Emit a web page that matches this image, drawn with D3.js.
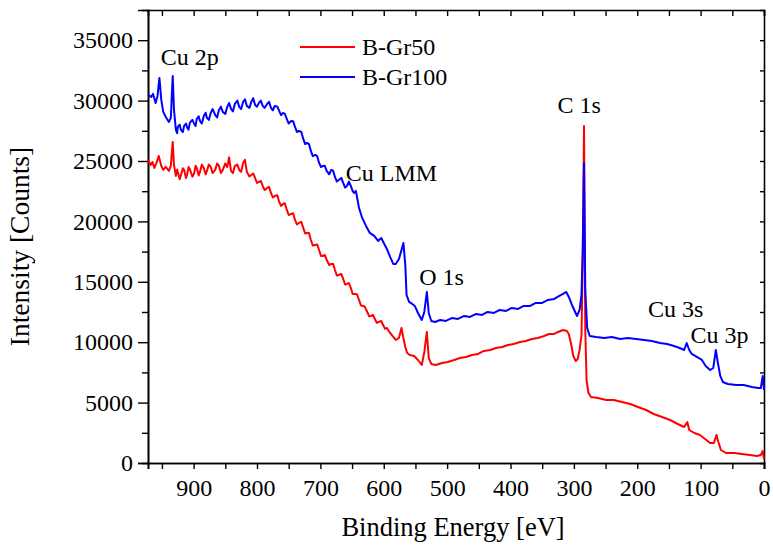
<!DOCTYPE html>
<html>
<head>
<meta charset="utf-8">
<script src="https://cdn.jsdelivr.net/npm/d3@7"></script>
<style>
  body { margin: 0; background: #fff; }
  svg text { font-family: "Liberation Serif", "Times New Roman", serif; fill: #000; }
</style>
</head>
<body>
<div id="chart"></div>
<script>
// B-Gr50 (red) survey spectrum
var gr50Energy = [972,968,965,962,958,955,951,948,944,939,936,933,931,
  928,926,925,922,920,917,915,912,910,908,906,902,899,897,895,892,890,887,884,881,879,876,873,870,866,863,860,857,854,850,847,844,841,838,835,831,828,825,822,819,
  816,812,809,806,803,800,797,794,791,788,784,781,778,775,772,768,765,762,759,756,753,750,746,743,740,737,734,730,727,724,721,718,715,712,708,705,702,699,696,693,690,686,683,680,677,674,671,667,664,661,658,655,652,649,645,642,639,636,633,630,626,623,620,617,614,611,608,604,601,598,595,
  590,585,581,576,572,569,566,563,559,552,546,540,536,532,529,525,518,508,499,489,480,470,461,451,442,432,423,413,404,395,385,376,366,357,347,339,331,325,317,311,308,304,301,297,294,291,288,286,284,282,280,277,273,262,249,237,224,211,199,186,174,161,148,136,126,121,118,110,101,93,85,79,75,72,68,60,47,35,22,11,5,2,0];
var gr50Counts = [25088,24674,24923,24426,24923,25420,24592,24260,24509,24178,24592,26579,24674,
  23764,24300,24095,23500,23846,24400,24260,23600,23929,24500,24343,23700,24012,24600,24426,23800,24095,24700,24426,23900,24178,24700,24509,24000,24260,24800,24592,24000,24260,24800,24509,25300,24178,24000,24592,24700,24260,24100,24840,25100,
  24095,23720,23846,23970,23598,23180,23267,23350,22936,22600,22770,22860,22356,21980,22108,22160,21611,21280,21445,21500,20948,20530,20617,20670,20120,19750,19872,19960,19458,19000,19044,19050,18464,18010,18050,18090,17636,17140,17140,17220,16808,16390,16477,16480,15980,15520,15566,15650,15235,14780,14821,14900,14490,13990,13993,13950,13496,13050,13000,12950,12503,12140,12172,12250,11923,11600,11675,11750,11426,11100,11178,
  10764,10433,10184,10350,11178,10350,9605,9108,8942,8860,8528,8114,9191,10847,8694,8197,8114,8280,8363,8528,8694,8777,8942,9025,9274,9356,9522,9605,9770,9853,10019,10102,10267,10350,10516,10681,10681,10847,11012,10930,10681,9770,8860,8446,8611,9356,10598,16808,27904,11012,6872,5796,5465,5382,5216,5216,5051,4885,4637,4388,4057,3809,3560,3229,2981,3395,2732,2484,2318,1987,1656,1656,2318,1739,1076,828,828,745,662,580,662,994,331];

// B-Gr100 (blue) survey spectrum
var gr100Energy = [972,967,964,960,957,954,951,948,944,939,936,933,931,
  928,926,925,922,920,917,915,912,910,908,906,902,899,897,895,892,890,887,884,881,879,876,873,870,866,863,860,857,854,850,847,844,841,838,835,831,828,825,822,819,816,812,809,806,803,800,797,794,791,788,784,781,778,775,772,768,765,762,759,756,753,750,746,743,740,737,734,730,727,724,721,718,715,712,708,705,702,699,696,693,690,686,683,680,677,674,671,667,664,661,658,655,652,649,647,644,
  639,634,628,622,615,609,604,600,595,590,585,581,576,572,569,566,564,560,555,551,546,540,536,532,529,525,519,511,502,492,483,473,464,454,445,436,426,417,407,398,388,379,369,360,350,341,331,323,317,312,308,303,298,295,291,288,286,284,282,279,275,265,252,240,227,215,202,189,177,164,153,142,133,126,122,118,114,106,98,92,85,80,76,73,69,65,57,44,32,19,9,5,2,0];
var gr100Counts = [30470,30305,30553,29808,30388,31878,30056,29063,28649,28235,28566,32044,29228,
  27572,27300,27821,28000,27572,27400,27904,28100,27738,27600,28152,28400,28069,27900,28483,28700,28318,28100,28732,29000,28566,28400,28980,29300,28814,28600,29228,29500,29063,28900,29477,29800,29311,29100,29725,30000,29477,29300,29891,30100,29560,29400,29891,30200,29642,29500,29808,30000,29560,29400,29725,29900,29394,29200,29560,29500,29146,28800,28980,28900,28483,28100,28318,28300,27821,27400,27490,27400,26827,26400,26496,26400,25834,25400,25502,25400,24840,24500,24592,24600,24178,23900,24260,24200,23681,23300,23432,23600,23184,22800,22936,23300,22936,22500,22356,22522,
  21114,20286,19624,19044,18796,18382,18630,18216,17719,17057,16477,16477,16891,17636,18216,16394,13910,13331,13165,13000,12420,11840,12503,14159,12420,11758,11675,11840,11758,12006,11923,12172,12089,12337,12254,12503,12420,12668,12586,12834,12751,13000,13000,13248,13248,13496,13579,13828,13993,14159,13745,13082,12503,12172,12668,13910,17636,24840,14324,11178,10516,10433,10350,10433,10267,10350,10267,10184,10102,9936,9853,9688,9522,9356,9936,9356,9025,8777,8528,8032,7700,7866,9356,8363,7204,6707,6541,6458,6458,6293,6210,6210,7204,6044];

var seriesNames = ["B-Gr50", "B-Gr100"];
var seriesColors = ["#ff0000", "#0000ff"];

// peak labels: text, energy, counts (label anchor)
var peakLabels = ["Cu 2p", "C 1s", "Cu LMM", "O 1s", "Cu 3s", "Cu 3p"];
var peakEnergy = [952, 326, 660, 544, 183, 116];
var peakCounts = [32954, 28955, 23374, 14738, 12064, 9911];

var xMajor = [900, 800, 700, 600, 500, 400, 300, 200, 100, 0];
var yMajor = [0, 5000, 10000, 15000, 20000, 25000, 30000, 35000];

var margin = {top: 10, right: 9, bottom: 88, left: 148},
    width = 773 - margin.left - margin.right,
    height = 551 - margin.top - margin.bottom;

var svg = d3.select("#chart")
  .append("svg")
    .attr("width", 773)
    .attr("height", 551)
  .append("g")
    .attr("transform", "translate(" + margin.left + "," + margin.top + ")");

var x = d3.scaleLinear().domain([972, 0]).range([0, width]);
var y = d3.scaleLinear().domain([0, 37500]).range([height, 0]);

var xMinor = d3.range(950, 0, -100);
var yMinor = d3.range(2500, 37500, 5000);
var yAll = d3.range(2500, 37500, 2500);

// bottom axis
svg.append("g")
    .attr("class", "axis")
    .attr("transform", "translate(0," + height + ")")
    .call(d3.axisBottom(x).tickValues(xMajor).tickSize(6).tickPadding(10).tickFormat(d3.format("d")));
svg.append("g")
    .attr("class", "axis minor")
    .attr("transform", "translate(0," + height + ")")
    .call(d3.axisBottom(x).tickValues(xMinor).tickSize(6).tickFormat(""));

// top axis, ticks inward
svg.append("g")
    .attr("class", "axis minor")
    .call(d3.axisTop(x).tickValues(xMajor.concat(xMinor)).tickSize(-6).tickFormat(""));

// left axis
svg.append("g")
    .attr("class", "axis")
    .call(d3.axisLeft(y).tickValues(yMajor).tickSize(10).tickPadding(5).tickFormat(d3.format("d")));
svg.append("g")
    .attr("class", "axis minor")
    .call(d3.axisLeft(y).tickValues(yMinor).tickSize(6).tickFormat(""));

// right axis, ticks inward
svg.append("g")
    .attr("class", "axis minor")
    .attr("transform", "translate(" + width + ",0)")
    .call(d3.axisRight(y).tickValues(yAll).tickSize(-4).tickFormat(""));

svg.selectAll(".axis")
    .attr("font-family", "'Liberation Serif', 'Times New Roman', serif")
    .attr("font-size", 24);
svg.selectAll(".axis path").attr("stroke", "#000").attr("stroke-width", 1.6);
svg.selectAll(".axis line").attr("stroke", "#000").attr("stroke-width", 1.4);
svg.selectAll(".axis text").style("font-size", "24px");

// spectra
var line = d3.line()
    .x(function(d){ return x(d[0]); })
    .y(function(d){ return y(d[1]); });

var spectra = [
    d3.zip(gr50Energy, gr50Counts),
    d3.zip(gr100Energy, gr100Counts)
];

svg.selectAll(".spectrum")
  .data(spectra)
  .enter()
  .append("path")
    .attr("class", "spectrum")
    .attr("fill", "none")
    .attr("stroke", function(d, i){ return seriesColors[i]; })
    .attr("stroke-width", 2)
    .attr("stroke-linejoin", "round")
    .attr("d", line);

// peak labels
svg.selectAll(".peak")
  .data(peakLabels)
  .enter()
  .append("text")
    .attr("class", "peak")
    .attr("x", function(d, i){ return x(peakEnergy[i]); })
    .attr("y", function(d, i){ return y(peakCounts[i]); })
    .style("font-size", "24px")
    .text(function(d){ return d; });

// legend
var legend = svg.append("g").attr("transform", "translate(152,37)");
seriesNames.forEach(function(name, i){
    legend.append("line")
        .attr("x1", 0).attr("x2", 55)
        .attr("y1", i * 30).attr("y2", i * 30)
        .attr("stroke", seriesColors[i])
        .attr("stroke-width", 2);
    legend.append("text")
        .attr("x", 62).attr("y", i * 30 + 8)
        .style("font-size", "24px")
        .text(name);
});

// axis titles
svg.append("text")
    .attr("x", width / 2 - 3)
    .attr("y", height + 73)
    .attr("text-anchor", "middle")
    .style("font-size", "26.5px")
    .text("Binding Energy [eV]");

svg.append("text")
    .attr("transform", "translate(-119," + (height / 2 + 10) + ")rotate(-90)")
    .attr("text-anchor", "middle")
    .style("font-size", "27.5px")
    .text("Intensity [Counts]");
</script>
</body>
</html>
